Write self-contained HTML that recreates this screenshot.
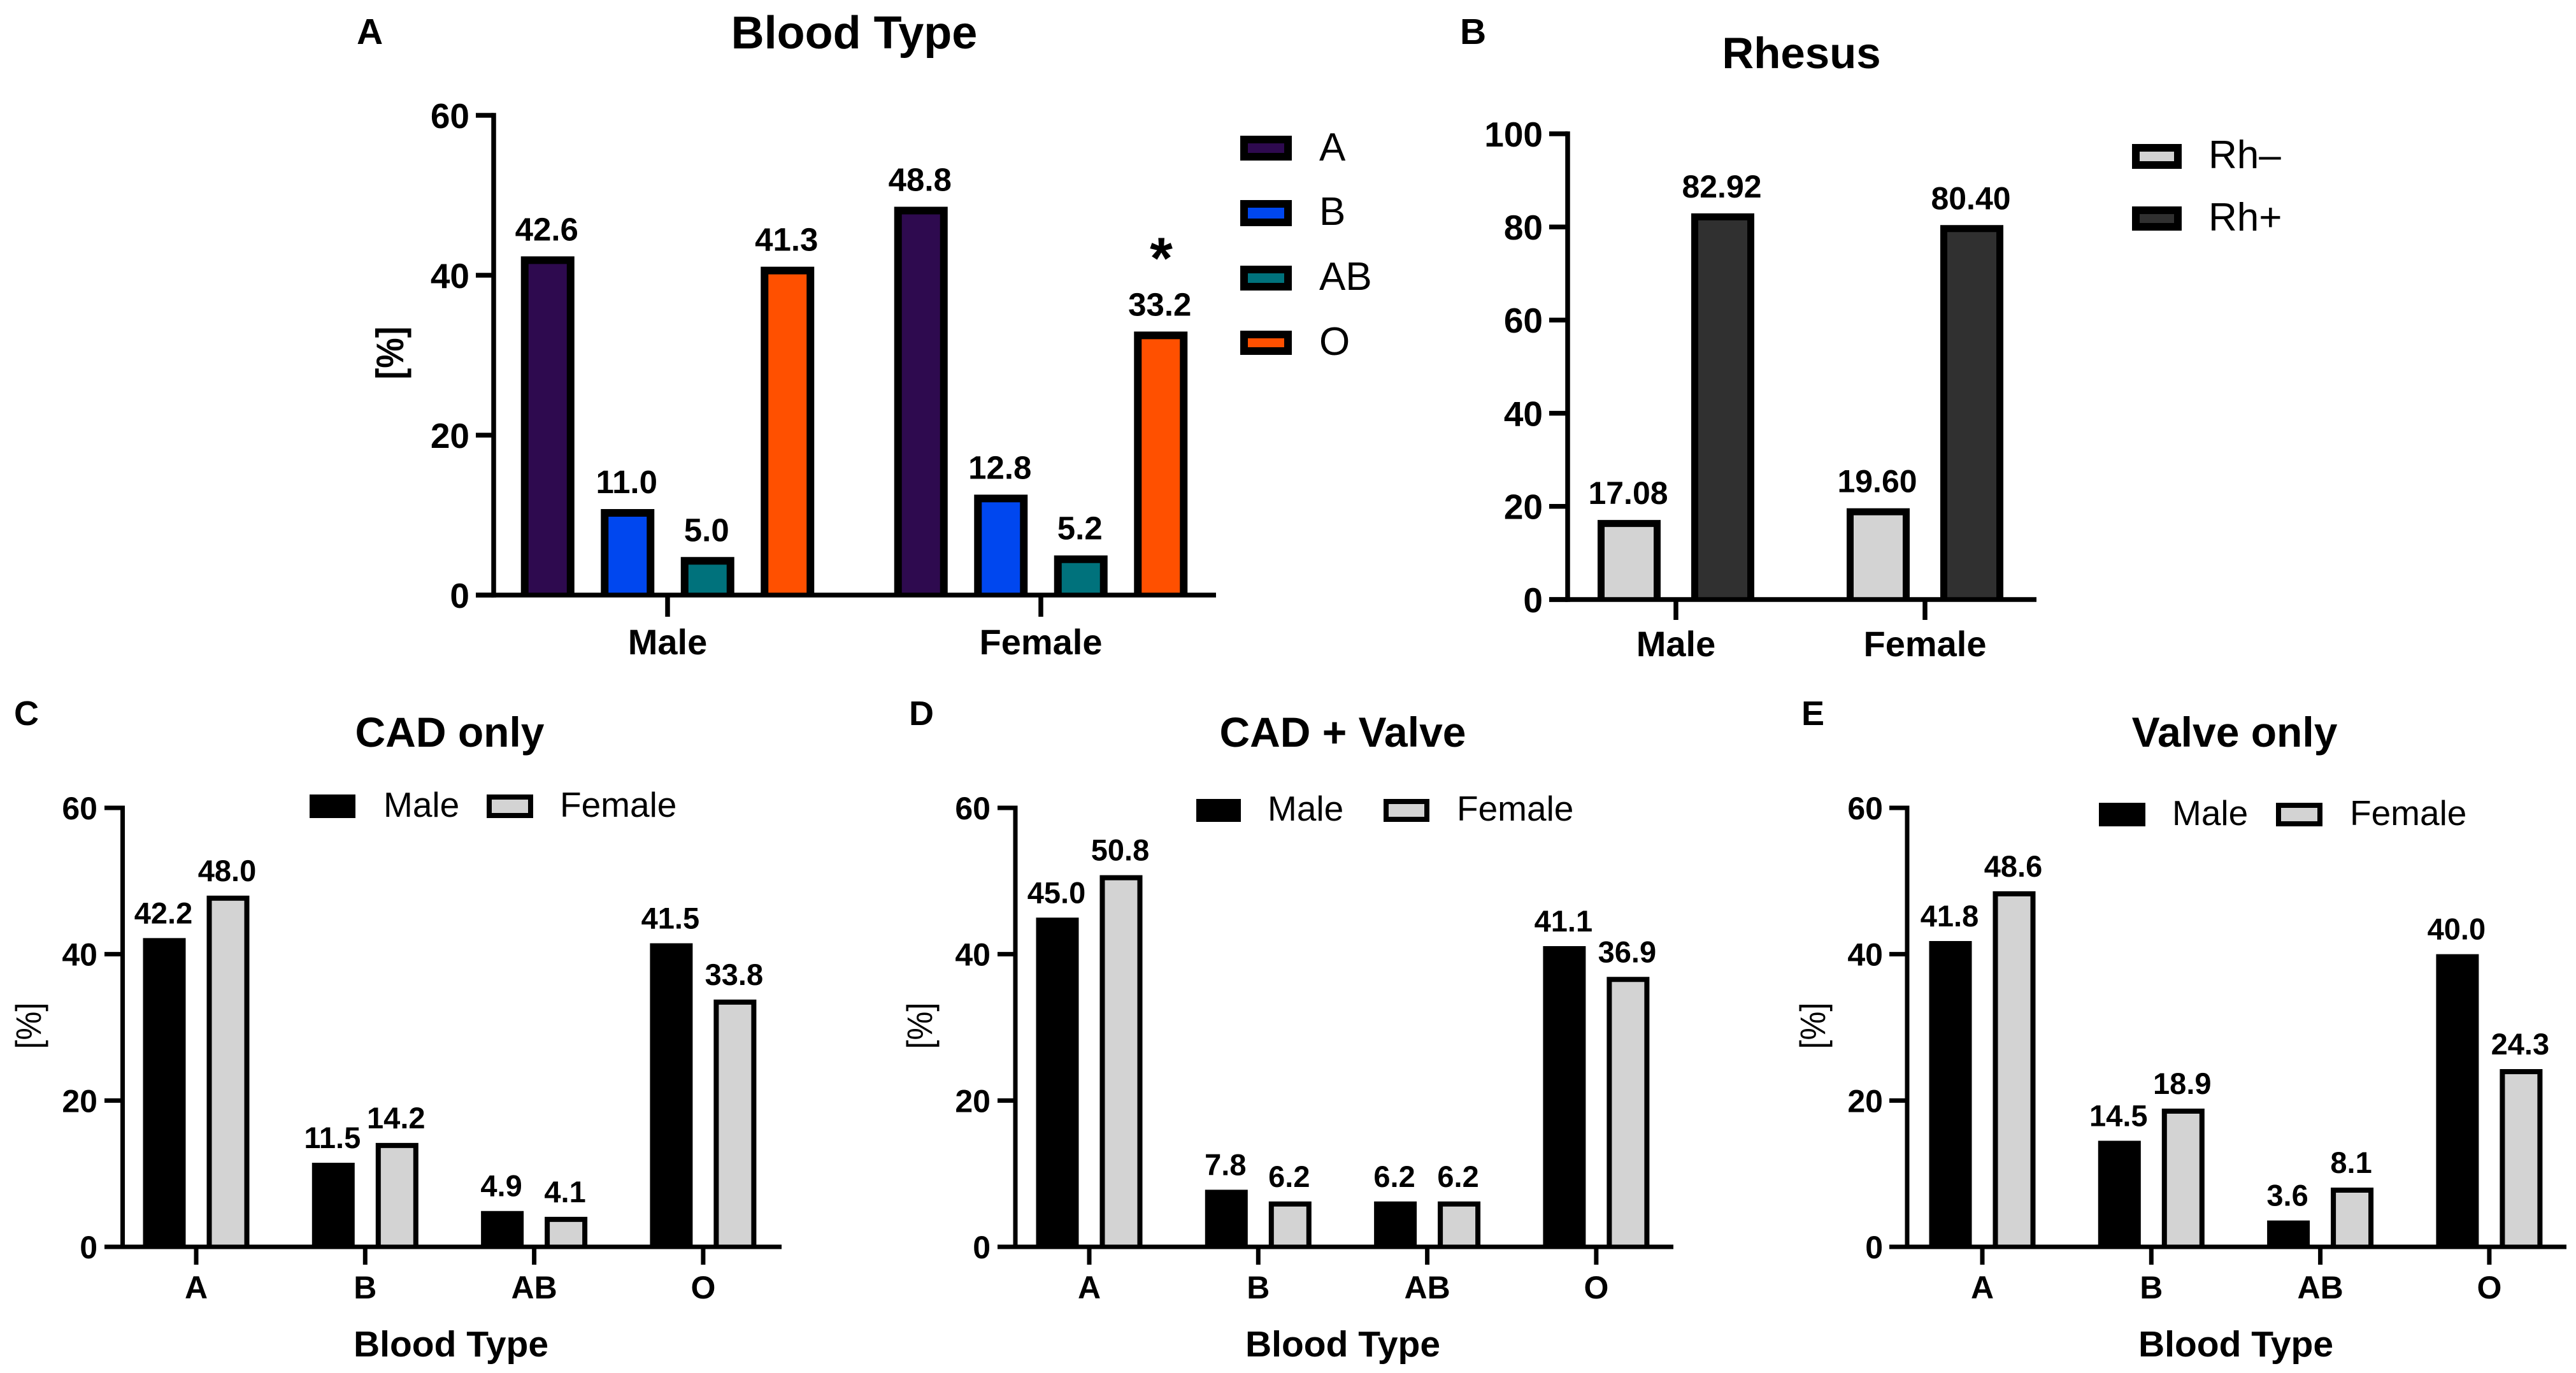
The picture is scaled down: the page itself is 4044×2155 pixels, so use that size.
<!DOCTYPE html>
<html lang="en">
<head>
<meta charset="utf-8">
<title>Blood type and rhesus distribution by sex</title>
<style>
html,body{margin:0;padding:0;background:#fff;width:4044px;height:2155px;overflow:hidden}
svg{display:block}
text{font-family:"Liberation Sans",Arial,sans-serif;fill:#000}
</style>
</head>
<body>
<svg id="figure" xmlns="http://www.w3.org/2000/svg" width="4044" height="2155" viewBox="0 0 4044 2155"></svg>
<script>
// ---- data ----
const bloodTypes = ['A', 'B', 'AB', 'O'];
const sexes = ['Male', 'Female'];
const rhesusTypes = ['Rh–', 'Rh+'];

const yTicks60 = [0, 20, 40, 60];
const yTicks100 = [0, 20, 40, 60, 80, 100];

const overallMale = [42.6, 11.0, 5.0, 41.3];
const overallFemale = [48.8, 12.8, 5.2, 33.2];

const rhesusMale = [17.08, 82.92];
const rhesusFemale = [19.60, 80.40];

const cadOnlyMale = [42.2, 11.5, 4.9, 41.5];
const cadOnlyFemale = [48.0, 14.2, 4.1, 33.8];

const cadValveMale = [45.0, 7.8, 6.2, 41.1];
const cadValveFemale = [50.8, 6.2, 6.2, 36.9];

const valveOnlyMale = [41.8, 14.5, 3.6, 40.0];
const valveOnlyFemale = [48.6, 18.9, 8.1, 24.3];

// ---- drawing helpers ----
const NS = 'http://www.w3.org/2000/svg';
const root = document.getElementById('figure');

function makeGroup(parent, name) {
  const el = document.createElementNS(NS, 'g');
  
  
  parent.appendChild(el);
  return el;
}
function drawLine(parent, name, x1, y1, x2, y2, width) {
  const el = document.createElementNS(NS, 'line');
  
  
  el.setAttribute('x1', x1);
  el.setAttribute('y1', y1);
  el.setAttribute('x2', x2);
  el.setAttribute('y2', y2);
  el.setAttribute('stroke', '#000');
  el.setAttribute('stroke-width', width);
  parent.appendChild(el);
  return el;
}
// a bar has a filled body with a stroke on the top and both sides only
function drawBar(parent, name, x, top, w, bottom, fill, stroke) {
  const el = document.createElementNS(NS, 'path');
  
  
  const s = stroke / 2;
  el.setAttribute('d', 'M' + (x + s) + ' ' + bottom + 'V' + (top + s) + 'H' + (x + w - s) + 'V' + bottom);
  el.setAttribute('fill', fill);
  el.setAttribute('stroke', '#000');
  el.setAttribute('stroke-width', stroke);
  parent.appendChild(el);
  return el;
}
function drawRect(parent, name, x, y, w, h, fill, stroke) {
  const el = document.createElementNS(NS, 'rect');
  
  
  el.setAttribute('x', x + stroke / 2);
  el.setAttribute('y', y + stroke / 2);
  el.setAttribute('width', Math.max(w - stroke, 0));
  el.setAttribute('height', Math.max(h - stroke, 0));
  el.setAttribute('fill', fill);
  el.setAttribute('stroke', '#000');
  el.setAttribute('stroke-width', stroke);
  parent.appendChild(el);
  return el;
}
function drawText(parent, name, str, x, y, size, weight, anchor, rotate) {
  const el = document.createElementNS(NS, 'text');
  
  
  el.setAttribute('x', x);
  el.setAttribute('y', y);
  el.setAttribute('font-size', size);
  el.setAttribute('font-weight', weight);
  el.setAttribute('text-anchor', anchor);
  if (rotate) el.setAttribute('transform', 'rotate(-90 ' + x + ' ' + y + ')');
  el.textContent = str;
  parent.appendChild(el);
  return el;
}

// ---- a panel: axis functions turn data into marks ----
function drawPanel(cfg) {
  const g = makeGroup(root, cfg.id + '-panel');
  const yScale = v => cfg.y0 + (cfg.yMaxPx - cfg.y0) * (v / cfg.yMax);
  const xTick = i => cfg.xFirst + i * cfg.xStep;
  const xBar = (i, s) => xTick(i) + (s - (cfg.seriesNames.length - 1) / 2) * cfg.barStep;

  drawText(g, cfg.id + '-panel-letter', cfg.letter, cfg.letterX, cfg.letterY, cfg.letterSize, 700, 'start');
  drawText(g, cfg.id + '-title', cfg.title, cfg.titleX, cfg.titleY, cfg.titleSize, 700, 'middle');

  // bars + value labels
  cfg.groups.forEach((groupName, i) => {
    cfg.seriesNames.forEach((seriesName, s) => {
      const v = cfg.values[s][i];
      const top = yScale(v) + cfg.barInset;
      const cx = xBar(i, s);
      drawBar(g, cfg.id + '-bar-' + groupName + '-' + seriesName, cx - cfg.barW / 2, top, cfg.barW, cfg.y0, cfg.fills[s], cfg.strokes[s]);
      drawText(g, cfg.id + '-value-' + groupName + '-' + seriesName, v.toFixed(cfg.decimals), cx - 1.5, top - cfg.valueGap, cfg.valueSize, 700, 'middle');
    });
  });

  // y axis
  const yTop = yScale(cfg.yTicks[cfg.yTicks.length - 1]);
  drawLine(g, cfg.id + '-y-axis', cfg.axisX, yTop - cfg.axisW / 2, cfg.axisX, cfg.y0 + cfg.axisW / 2, cfg.axisW);
  cfg.yTicks.forEach(t => {
    drawLine(g, cfg.id + '-y-tick-' + t, cfg.tickLeft, yScale(t), cfg.axisX, yScale(t), cfg.axisW);
    drawText(g, cfg.id + '-y-tick-label-' + t, String(t), cfg.tickLabelRight, yScale(t) + cfg.tickSize * 0.36, cfg.tickSize, 700, 'end');
  });

  // x axis
  drawLine(g, cfg.id + '-x-axis', cfg.tickLeft, cfg.y0, cfg.axisRight, cfg.y0, cfg.axisW);
  cfg.groups.forEach((groupName, i) => {
    drawLine(g, cfg.id + '-x-tick-' + groupName, xTick(i), cfg.y0, xTick(i), cfg.tickBottom, cfg.axisW);
    drawText(g, cfg.id + '-x-tick-label-' + groupName, groupName, xTick(i), cfg.xLabelY, cfg.xLabelSize, 700, 'middle');
  });

  // axis titles
  if (cfg.yTitleSize) {
    const yt = drawText(g, cfg.id + '-y-axis-title', '[%]', cfg.yTitleX, cfg.yTitleY, cfg.yTitleSize, cfg.yTitleWeight, 'middle', true);
    yt.setAttribute('textLength', cfg.yTitleLen);
    yt.setAttribute('lengthAdjust', 'spacingAndGlyphs');
  }
  if (cfg.xTitle) drawText(g, cfg.id + '-x-axis-title', cfg.xTitle, cfg.xTitleX, cfg.xTitleY, cfg.xTitleSize, 700, 'middle');

  // legend
  cfg.legend.forEach((row, s) => {
    const lg = makeGroup(g, cfg.id + '-legend-entry-' + cfg.seriesNames[s]);
    drawRect(lg, cfg.id + '-legend-swatch-' + cfg.seriesNames[s], row.x, row.y, row.w, row.h, cfg.fills[s], cfg.legendStroke);
    drawText(lg, cfg.id + '-legend-label-' + cfg.seriesNames[s], cfg.seriesNames[s], row.tx, row.ty, cfg.legendSize, 400, 'start');
  });
}

const maleFemaleFills = ['#000000', '#d3d3d3'];
const maleFemaleStrokes = [0, 8];
const lowerPanelBase = {
  groups: bloodTypes, seriesNames: sexes, fills: maleFemaleFills, strokes: maleFemaleStrokes,
  y0: 1957, yMaxPx: 1268, yMax: 60, yTicks: yTicks60, decimals: 1, barW: 67, barStep: 100, barInset: 0,
  xStep: 265.3, valueGap: 23, valueSize: 47, axisW: 7, tickBottom: 1985, xLabelY: 2038,
  tickSize: 50, xLabelSize: 50, titleY: 1172, titleSize: 66, letterY: 1138, letterSize: 54,
  yTitleY: 1610, yTitleSize: 56, yTitleLen: 73, yTitleWeight: 400, xTitle: 'Blood Type', xTitleY: 2129, xTitleSize: 57,
  legendStroke: 8, legendSize: 55
};

drawPanel({
  id: 'blood-type', letter: 'A', letterX: 560, letterY: 69, letterSize: 57,
  title: 'Blood Type', titleX: 1341, titleY: 76, titleSize: 72,
  groups: sexes, seriesNames: bloodTypes, fills: ['#2e0a4f', '#0047ef', '#00727c', '#ff5000'], strokes: [12, 12, 12, 12],
  values: [[overallMale[0], overallFemale[0]], [overallMale[1], overallFemale[1]], [overallMale[2], overallFemale[2]], [overallMale[3], overallFemale[3]]],
  y0: 934, yMaxPx: 181, yMax: 60, yTicks: yTicks60, decimals: 1, barInset: 3,
  xFirst: 1048, xStep: 586, barW: 84, barStep: 125.5, valueGap: 25, valueSize: 51,
  axisX: 775, axisW: 7.5, tickLeft: 747, tickLabelRight: 737, axisRight: 1909, tickBottom: 968, xLabelY: 1027, tickSize: 55, xLabelSize: 56,
  yTitleX: 633, yTitleY: 554, yTitleSize: 60, yTitleLen: 83, yTitleWeight: 700,
  legendStroke: 12, legendSize: 62,
  legend: [
    {x: 1947, y: 213, w: 81, h: 39, tx: 2071, ty: 252},
    {x: 1947, y: 314, w: 81, h: 41, tx: 2071, ty: 353},
    {x: 1947, y: 417, w: 81, h: 39, tx: 2071, ty: 455},
    {x: 1947, y: 519, w: 81, h: 38, tx: 2071, ty: 557}
  ]
});

// significance marker on the female O bar
drawText(root, 'significance-asterisk', '*', 1823, 437, 92, 700, 'middle');

drawPanel({
  id: 'rhesus', letter: 'B', letterX: 2292, letterY: 69, letterSize: 57,
  title: 'Rhesus', titleX: 2828, titleY: 107, titleSize: 69,
  groups: sexes, seriesNames: rhesusTypes, fills: ['#d3d3d3', '#303030'], strokes: [11, 11],
  values: [[rhesusMale[0], rhesusFemale[0]], [rhesusMale[1], rhesusFemale[1]]],
  y0: 941, yMaxPx: 210, yMax: 100, yTicks: yTicks100, decimals: 2, barInset: 0,
  xFirst: 2631, xStep: 391, barW: 99, barStep: 147, valueGap: 25, valueSize: 50,
  axisX: 2461, axisW: 7.5, tickLeft: 2432, tickLabelRight: 2422, axisRight: 3197, tickBottom: 973, xLabelY: 1030, tickSize: 55, xLabelSize: 56,
  yTitleSize: 0,
  legendStroke: 12, legendSize: 62,
  legend: [
    {x: 3347, y: 226, w: 78, h: 39, tx: 3467, ty: 264},
    {x: 3347, y: 324, w: 78, h: 38, tx: 3467, ty: 362}
  ]
});

drawPanel(Object.assign({}, lowerPanelBase, {
  id: 'cad-only', letter: 'C', letterX: 22,
  title: 'CAD only', titleX: 706,
  values: [cadOnlyMale, cadOnlyFemale],
  xFirst: 308, axisX: 192.5, tickLeft: 164, tickLabelRight: 153, axisRight: 1227,
  yTitleX: 64, xTitleX: 708,
  legend: [
    {x: 486, y: 1247, w: 72, h: 37, tx: 602, ty: 1282},
    {x: 764, y: 1247, w: 73, h: 37, tx: 879, ty: 1282}
  ]
}));

drawPanel(Object.assign({}, lowerPanelBase, {
  id: 'cad-valve', letter: 'D', letterX: 1427,
  title: 'CAD + Valve', titleX: 2108,
  values: [cadValveMale, cadValveFemale],
  xFirst: 1710, axisX: 1594, tickLeft: 1566, tickLabelRight: 1555, axisRight: 2627,
  yTitleX: 1463, xTitleX: 2108,
  legend: [
    {x: 1878, y: 1254, w: 70, h: 36, tx: 1990, ty: 1288},
    {x: 2172, y: 1254, w: 72, h: 36, tx: 2287, ty: 1288}
  ]
}));

drawPanel(Object.assign({}, lowerPanelBase, {
  id: 'valve-only', letter: 'E', letterX: 2828,
  title: 'Valve only', titleX: 3508,
  values: [valveOnlyMale, valveOnlyFemale],
  xFirst: 3112, axisX: 2994, tickLeft: 2966, tickLabelRight: 2956, axisRight: 4029,
  yTitleX: 2865, xTitleX: 3510,
  legend: [
    {x: 3295, y: 1260, w: 73, h: 37, tx: 3410, ty: 1295},
    {x: 3573, y: 1260, w: 73, h: 37, tx: 3689, ty: 1295}
  ]
}));
</script>
</body>
</html>
